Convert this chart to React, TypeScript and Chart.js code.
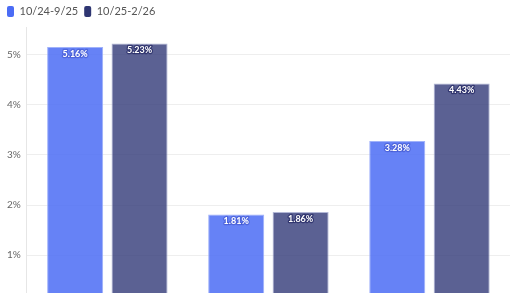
import React, { useEffect, useRef } from "react";
import { Chart, registerables } from "chart.js";

Chart.register(...registerables);

const categories = ["A", "B", "C"];
const seriesNames = ["10/24-9/25", "10/25-2/26"];
const series1 = [5.16, 1.81, 3.28];
const series2 = [5.23, 1.86, 4.43];
const yTicks = [0, 1, 2, 3, 4, 5];

const labelPlugin = {
  id: "barLabels",
  afterDatasetsDraw(chart: any) {
    const ctx = chart.ctx;
    ctx.save();
    ctx.font = "bold 9px Lato";
    ctx.textAlign = "center";
    ctx.textBaseline = "middle";
    chart.data.datasets.forEach((ds: any, i: number) => {
      const meta = chart.getDatasetMeta(i);
      meta.data.forEach((bar: any, j: number) => {
        const t = ds.data[j].toFixed(2) + "%";
        const y = bar.y + 7;
        ctx.lineJoin = "round";
        ctx.lineWidth = 2.5;
        ctx.strokeStyle = i === 0 ? "rgba(60,80,200,0.55)" : "rgba(35,40,100,0.7)";
        ctx.strokeText(t, bar.x, y);
        ctx.fillStyle = "#ffffff";
        ctx.fillText(t, bar.x, y);
      });
    });
    ctx.restore();
  },
};

export default function App() {
  const ref = useRef<HTMLCanvasElement>(null);
  useEffect(() => {
    const chart = new Chart(ref.current!, {
      type: "bar",
      data: {
        labels: categories,
        datasets: [
          {
            label: seriesNames[0],
            data: series1,
            backgroundColor: "rgba(75,108,245,0.85)",
            borderColor: "rgba(150,170,250,0.9)",
            borderWidth: 1,
            categoryPercentage: 0.8,
            barPercentage: 0.87,
          },
          {
            label: seriesNames[1],
            data: series2,
            backgroundColor: "rgba(50,58,120,0.8)",
            borderColor: "rgba(170,175,210,0.9)",
            borderWidth: 1,
            categoryPercentage: 0.8,
            barPercentage: 0.87,
          },
        ],
      },
      options: {
        animation: false,
        responsive: true,
        maintainAspectRatio: false,
        layout: { padding: { left: 1, right: 10, top: 0, bottom: 0 } },
        plugins: {
          legend: {
            position: "top",
            align: "start",
            labels: {
              boxWidth: 7,
              boxHeight: 11,
              padding: 6,
              color: "#555",
              font: { family: "Lato", size: 11 },
              generateLabels: (c: any) =>
                c.data.datasets.map((d: any, i: number) => ({
                  text: d.label,
                  fillStyle: i === 0 ? "#4b6cf5" : "#2f3672",
                  strokeStyle: i === 0 ? "#4b6cf5" : "#2f3672",
                  lineWidth: 0,
                  borderRadius: 2,
                  datasetIndex: i,
                  fontColor: "#555",
                })),
            },
          },
          tooltip: { enabled: false },
        },
        scales: {
          x: {
            ticks: { display: false },
            grid: { display: false, drawTicks: false },
            border: { display: false },
          },
          y: {
            min: 0,
            max: 5.56,
            afterBuildTicks: (axis: any) => {
              axis.ticks = yTicks.map((v) => ({ value: v }));
            },
            ticks: {
              padding: 6,
              color: "#666",
              font: { family: "Lato", size: 10 },
              callback: (v: any) => v + "%",
            },
            grid: { color: "#eeeeee", drawTicks: false },
            border: { display: true, color: "#e6e6e6" },
          },
        },
      },
      plugins: [labelPlugin],
    });
    return () => chart.destroy();
  }, []);
  return (
    <div style={{ position: "absolute", left: 0, top: 0, width: 520, height: 317 }}>
      <canvas ref={ref} />
    </div>
  );
}
